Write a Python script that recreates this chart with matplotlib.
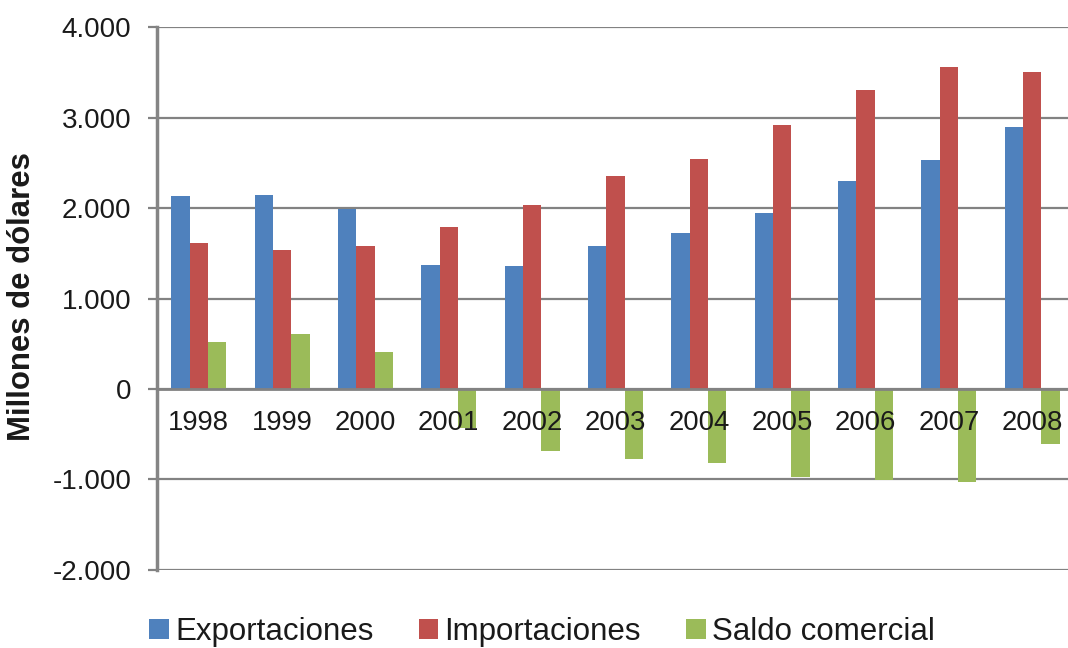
import matplotlib
matplotlib.use("Agg")
import matplotlib.pyplot as plt
import numpy as np
from matplotlib.ticker import FuncFormatter

plt.rcParams["font.family"] = ["Liberation Sans", "DejaVu Sans"]

years = ["1998", "1999", "2000", "2001", "2002", "2003", "2004", "2005", "2006", "2007", "2008"]
exportaciones = [2137, 2148, 1993, 1373, 1362, 1584, 1728, 1949, 2303, 2525, 2890]
importaciones = [1617, 1539, 1584, 1794, 2038, 2359, 2547, 2912, 3300, 3555, 3499]
saldo = [520, 609, 410, -432, -687, -775, -820, -975, -1008, -1030, -609]

series = [
    ("Exportaciones", exportaciones, "#4F81BD"),
    ("Importaciones", importaciones, "#C0504D"),
    ("Saldo comercial", saldo, "#9BBB59"),
]


def thousands(v, pos):
    return f"{int(v):,}".replace(",", ".")


fig = plt.figure(figsize=(10.68, 6.48), dpi=100)
ax = fig.add_axes([0.147, 0.1204, 1.0056 - 0.147, 0.9583 - 0.1204])

x = np.arange(len(years))
width = 0.22
for i, (name, vals, color) in enumerate(series):
    ax.bar(x + (i - 1) * width, vals, width=width, color=color, label=name, zorder=2)

ax.set_ylim(-2000, 4000)
ax.set_xlim(-0.5, len(years) - 0.5)
ax.set_yticks(range(-2000, 4001, 1000))
ax.yaxis.set_major_formatter(FuncFormatter(thousands))
ax.yaxis.grid(True, color="#828282", linewidth=1.6)
# grid behind the bars, year labels in front of them
ax.yaxis.set_zorder(0.5)
ax.xaxis.set_zorder(3)

for side in ["top", "right"]:
    ax.spines[side].set_visible(False)
ax.spines["left"].set_color("#858585")
ax.spines["left"].set_linewidth(2.5)
ax.spines["bottom"].set_position(("data", 0))
ax.spines["bottom"].set_color("#828282")
ax.spines["bottom"].set_linewidth(2.0)

ax.set_xticks(x)
ax.set_xticklabels(years)
ax.tick_params(axis="x", length=0, pad=15, labelsize=19.8, labelcolor="#1a1a1a")
ax.tick_params(axis="y", length=6.5, width=1.6, color="#828282", pad=12,
               labelsize=20, labelcolor="#1a1a1a")

fig.text(22 / 1068, 1 - 297 / 648, "Millones de dólares", rotation=90,
         ha="center", va="center", fontsize=22.4, fontweight="bold", color="#1a1a1a")

fig.legend(loc="center", bbox_to_anchor=(542 / 1068, 1 - 632 / 648), ncol=3,
           frameon=False, fontsize=22.5, handlelength=0.62, handleheight=0.6,
           handletextpad=0.2, columnspacing=1.45, labelcolor="#1a1a1a")

fig.savefig("out.png", dpi=100)
